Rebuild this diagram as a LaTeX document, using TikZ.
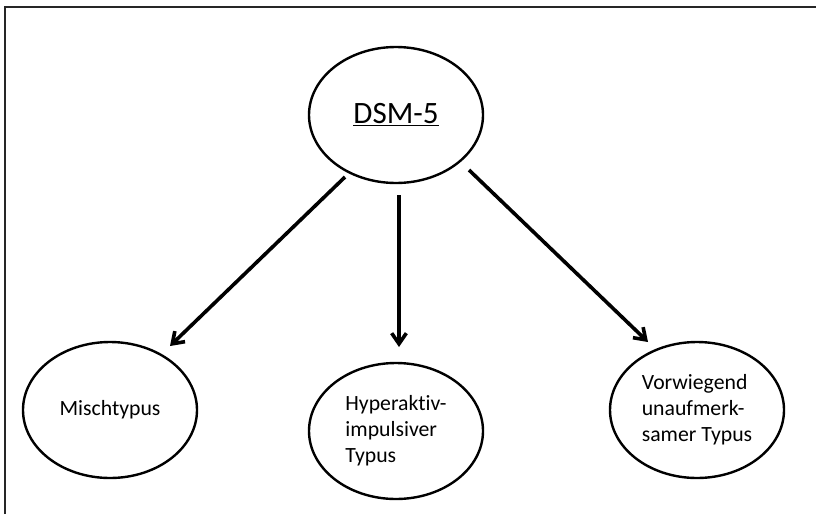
\documentclass[tikz,border=0pt]{standalone}
\usepackage{fontspec}
\setmainfont{Carlito}[Ligatures=NoCommon]
\usetikzlibrary{shapes.geometric,arrows.meta}
\begin{document}
\begin{tikzpicture}[x=0.75pt,y=-0.75pt,
  oval/.style={ellipse,draw=black,line width=1.8pt,inner sep=0pt,
    minimum width=130.5pt,minimum height=102pt,
    font=\fontsize{16.3}{19.5}\selectfont,align=left},
  conn/.style={draw=black,line width=2.7pt,
    -{Straight Barb[length=8pt,width=11pt,line width=2.7pt]}},
  frame/.style={draw=black!85,line width=1.8pt}]
\useasboundingbox (0,0) rectangle (816,514);
\draw[frame] (5,514) -- (5,7) -- (816,7);
\node[oval] (dsm) at (396,115)
  {\fontsize{23.3}{28}\selectfont\underline{DSM-5}};
\node[oval] (misch) at (110,410) {Mischtypus};
\node[oval] (hyper) at (396,431) {Hyperaktiv-\\impulsiver\\Typus};
\node[oval] (vorw) at (697,410) {Vorwiegend\\unaufmerk-\\samer Typus};
\coordinate (s1) at (345,177);
\coordinate (e1) at (170,346);
\coordinate (s2) at (399,195);
\coordinate (e2) at (399,347);
\coordinate (s3) at (469,170);
\coordinate (e3) at (648,342);
\draw[conn] (s1) -- (e1);
\draw[conn] (s2) -- (e2);
\draw[conn] (s3) -- (e3);
\end{tikzpicture}
\end{document}
